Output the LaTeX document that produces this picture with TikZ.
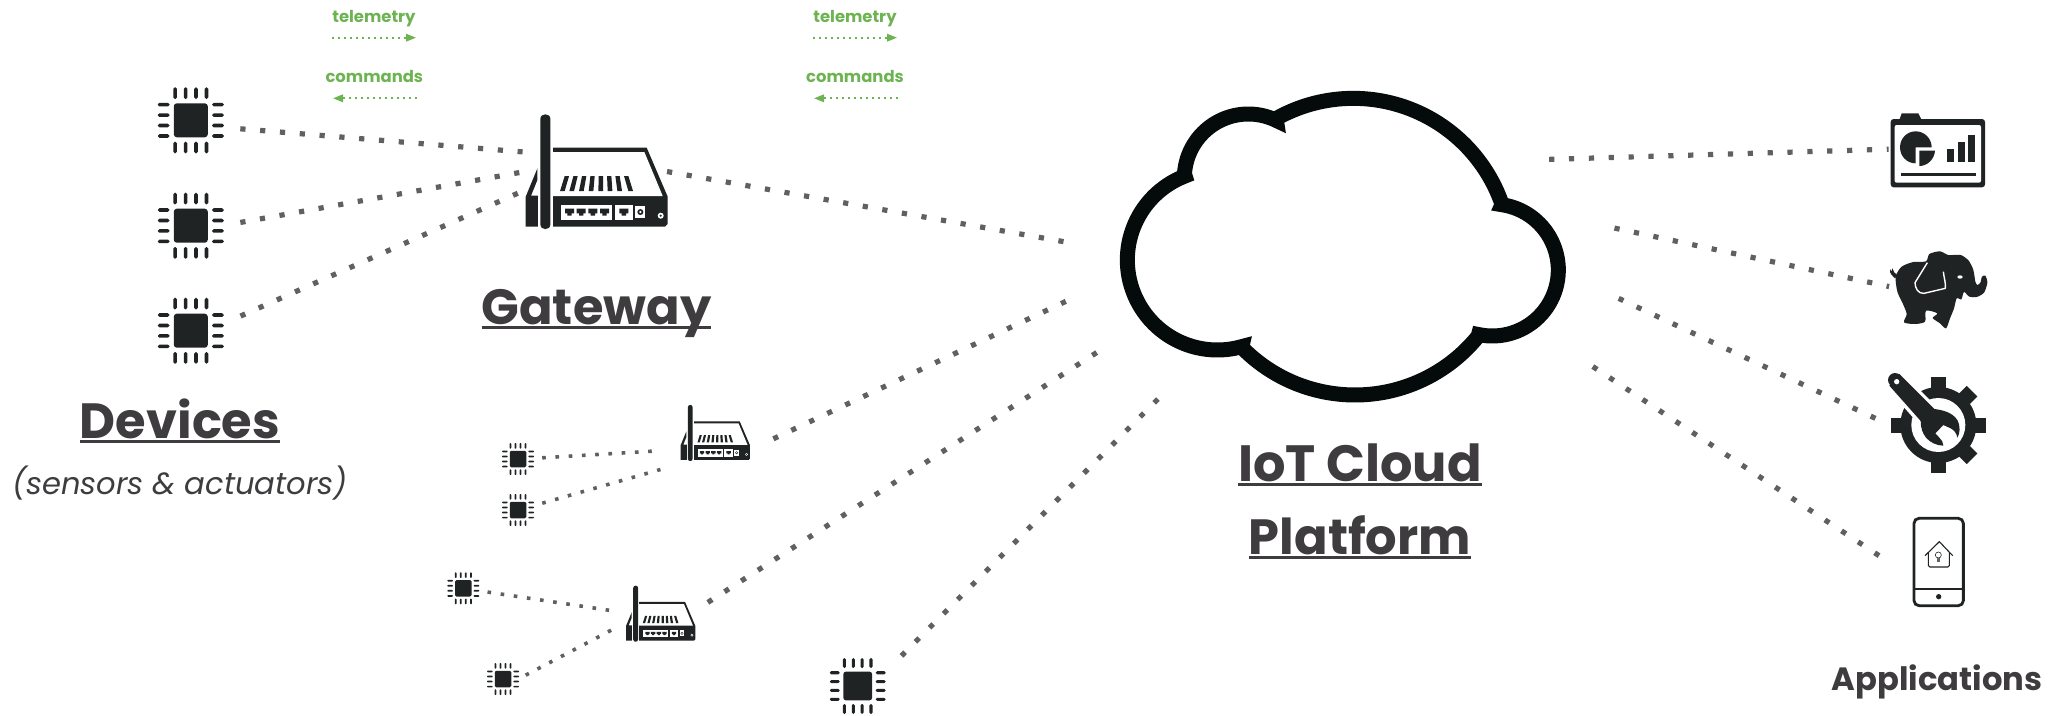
\documentclass[tikz,border=0pt]{standalone}
\usepackage{fontspec}
\setmainfont{Poppins}
\usetikzlibrary{arrows.meta}
\definecolor{icon}{HTML}{1F2324}
\definecolor{cloudk}{HTML}{050A0A}
\definecolor{txt}{HTML}{3E3C3F}
\definecolor{grn}{HTML}{6DB352}
\definecolor{dots}{HTML}{606060}
\newcommand{\ult}[1]{\setbox0=\hbox{#1}\rlap{\raisebox{-4.5pt}{\rule{\wd0}{2.8pt}}}\box0}
\tikzset{
  bigdots/.style={draw=dots,line width=5.2pt,dash pattern=on 5.2pt off 14.67pt,shorten <=-2.6pt,shorten >=-2.6pt},
  smalldots/.style={draw=dots,line width=3.6pt,dash pattern=on 3.6pt off 9.67pt,shorten <=-1.8pt,shorten >=-1.8pt},
  flow/.style={draw=grn,line width=1.7pt,dash pattern=on 1.7pt off 4.3pt,-{Triangle[length=10pt,width=7.5pt]}},
  greenlabel/.style={text=grn,font=\bfseries\fontsize{16.4}{20}\selectfont,anchor=base,inner sep=0pt},
  title/.style={text=txt,font=\bfseries\fontsize{49.5}{54}\selectfont,anchor=base,inner sep=0pt},
  pics/chip/.style={code={
    \fill[icon,rounded corners=3pt*#1] (-17,-17) rectangle (17,17);
    \foreach \p in {-15.7,-5.2,5.2,15.7}{
      \fill[icon,rounded corners=1.6pt*#1] (\p-1.8,-33) rectangle (\p+1.8,-21.3);
      \fill[icon,rounded corners=1.6pt*#1] (\p-1.8,21.3) rectangle (\p+1.8,33);
      \fill[icon,rounded corners=1.6pt*#1] (-33,\p-1.8) rectangle (-21.3,\p+1.8);
      \fill[icon,rounded corners=1.6pt*#1] (21.3,\p-1.8) rectangle (33,\p+1.8);
    }
  }},
  pics/router/.style={code={
    \begin{scope}[shift={(-260,-215)}]
      \fill[icon] (125,143) -- (410,143) -- (473,290) -- (473,372) -- (465,380) -- (125,380) -- cycle;
      \fill[white] (125,156) -- (403,156) -- (458,288) -- (125,288) -- cycle;
      \fill[icon] (82,205) -- (47,290) -- (47,380) -- (90,380) -- (90,287) -- (63,287) -- (82,240) -- cycle;
      \foreach \a/\b in {164/150,190/178,216/207,241/236,266/265,291/293,316/322,342/355}
        \fill[icon] (\a,228) -- (\a+13,228) -- (\b+14,273) -- (\b,273) -- cycle;
      \fill[white] (152,315) rectangle (305,360);
      \fill[white] (315,315) rectangle (368,360);
      \fill[white] (376,318) rectangle (406,355);
      \foreach \q in {165,200,235,270,328}
        \fill[icon] (\q,326) -- (\q+27,326) -- (\q+27,340) -- (\q+20,340) -- (\q+20,347) -- (\q+7,347) -- (\q+7,340) -- (\q,340) -- cycle;
      \fill[icon] (391,336) circle[radius=9];
      \fill[white] (391,336) circle[radius=4];
      \fill[white] (452,347) circle[radius=9];
      \fill[icon] (452,347) circle[radius=3.5];
      \fill[white] (84,60) rectangle (128,392);
      \fill[icon] (91,57) .. controls (91,38) and (121,38) .. (121,57) -- (121,373) .. controls (121,392) and (91,392) .. (91,373) -- cycle;
    \end{scope}
  }},
}
\begin{document}
\begin{tikzpicture}[x=1pt,y=-1pt]
\useasboundingbox (0,0) rectangle (2060,715);

% chips
\pic (d1) at (190.8,120.3) {chip=1};
\pic (d2) at (190.8,225.7) {chip=1};
\pic (d3) at (190.8,330.7) {chip=1};
\pic[scale=.485] (s1) at (518,459) {chip=.485};
\pic[scale=.485] (s2) at (518,510) {chip=.485};
\pic[scale=.485] (s3) at (463.3,588.3) {chip=.485};
\pic[scale=.485] (s4) at (503,679) {chip=.485};
\pic[scale=.845] (s5) at (857.7,686) {chip=.845};

% routers
\pic[scale=1/3] (g1) at (596.7,171.7) {router};
\pic[scale=.1627] (g2) at (715.3,433) {router};
\pic[scale=.1627] (g3) at (660.7,613.7) {router};

% cloud
\begin{scope}[shift={(1090,70)},scale=1/3]
  \draw[cloudk,line width=15pt,fill=white,miter limit=10]
    plot[domain=-119.4:-19,samples=50,smooth] ({790+472*cos(\x)},{557+472*sin(\x)})
    -- plot[domain=-81.6:102,samples=50,smooth] ({1207+198*cos(\x)},{600+198*sin(\x)})
    -- plot[domain=38.9:135.7,samples=50,smooth] ({795+475*cos(\x)},{500+475*sin(\x)})
    -- plot[domain=74.2:249,samples=50,smooth] ({382+270*cos(\x)},{570+270*sin(\x)})
    -- plot[domain=183.6:296,samples=50,smooth] ({475+192*cos(\x)},{324+192*sin(\x)})
    -- cycle;
\end{scope}

% connector ends
\coordinate (d1o) at (242.9,129);   \coordinate (g1a) at (520,151.7);
\coordinate (d2o) at (242.9,222);   \coordinate (g1b) at (516.9,173);
\coordinate (d3o) at (242.9,315);   \coordinate (g1c) at (515.4,194.3);
\coordinate (g1o) at (669.6,172);   \coordinate (c1) at (1064,241.7);
\coordinate (g2o) at (775.7,437.7); \coordinate (c2) at (1066.8,300.9);
\coordinate (g3o) at (710,601);     \coordinate (c3) at (1096,353);
\coordinate (s5o) at (903.3,654);   \coordinate (c4) at (1158,399);
\coordinate (s1o) at (544,457.7);   \coordinate (g2a) at (650,451.3);
\coordinate (s2o) at (544,502.7);   \coordinate (g2b) at (658.7,470);
\coordinate (s3o) at (489.3,592.3); \coordinate (g3a) at (607.3,610);
\coordinate (s4o) at (527.3,674.3); \coordinate (g3b) at (609.7,631);
\coordinate (c5) at (1551.7,159.3); \coordinate (a1) at (1886,149.3);
\coordinate (c6) at (1617,228.6);   \coordinate (a2) at (1886.5,286);
\coordinate (c7) at (1621,299.5);   \coordinate (a3) at (1874,417.7);
\coordinate (c8) at (1595,368);     \coordinate (a4) at (1878,555);

\draw[bigdots] (d1o) -- (g1a);
\draw[bigdots] (d2o) -- (g1b);
\draw[bigdots] (d3o) -- (g1c);
\draw[bigdots] (g1o) -- (c1);
\draw[bigdots] (g2o) -- (c2);
\draw[bigdots] (g3o) -- (c3);
\draw[bigdots] (s5o) -- (c4);
\draw[smalldots] (s1o) -- (g2a);
\draw[smalldots] (s2o) -- (g2b);
\draw[smalldots] (s3o) -- (g3a);
\draw[smalldots] (s4o) -- (g3b);
\draw[bigdots] (c5) -- (a1);
\draw[bigdots] (c6) -- (a2);
\draw[bigdots] (c7) -- (a3);
\draw[bigdots] (c8) -- (a4);

% dashboard
\begin{scope}[shift={(1800,90)},scale=1/3]
  \fill[icon] (298,90) -- (305,70) -- (355,70) -- (365,90) -- cycle;
  \fill[icon,rounded corners=3pt] (272,87) rectangle (555,292);
  \fill[white,rounded corners=2pt] (284,105) rectangle (543,278);
  \fill[icon] (347,220) .. controls (320,220) and (300,198) .. (300,172) .. controls (300,146) and (320,124) .. (347,124) .. controls (374,124) and (395,146) .. (395,172) -- (347,172) -- cycle;
  \fill[icon] (358,182) -- (405,182) .. controls (403,208) and (382,228) .. (358,228) -- cycle;
  \fill[icon] (442,177) rectangle (462,217);
  \fill[icon] (473,157) rectangle (494,217);
  \fill[icon] (504,135) rectangle (525,217);
  \fill[icon] (303,248) rectangle (527,257);
\end{scope}

% elephant
\begin{scope}[shift={(1800,90)},scale=1/3]
  \fill[icon] (270,537) .. controls (268,550) and (275,555) .. (285,565) -- (292,555) .. controls (285,552) and (280,545) .. (277,535) -- (274,545) -- cycle;
  \fill[icon] plot[smooth cycle,tension=.45] coordinates {
    (287,560) (305,530) (340,516) (378,514) (388,492) (420,484) (445,495) (482,495) (506,512) (520,540) (526,575) (532,585) (541,578) (546,560) (556,557) (562,578) (552,608) (530,621) (508,620) (492,606) (484,628) (470,625) (462,655) (450,685) (438,715) (420,700) (398,684) (412,670) (378,662) (375,695) (345,702) (312,697) (320,672) (308,640) (292,605)};
  \draw[white,line width=1.4pt,line join=round] (382,518) -- (345,578) .. controls (345,595) and (355,612) .. (372,610) -- (436,595) .. controls (438,580) and (432,565) .. (430,545);
  \fill[white] (480,561) ellipse[x radius=8,y radius=5];
\end{scope}

% gear and wrench
\begin{scope}[shift={(1938.3,425)}]
  \foreach \t in {0,45,90,135,180,270,315}
    \fill[icon,rotate=\t] (30,-7.5) rectangle (47.7,7.5);
  \fill[icon] (0,0) circle[radius=38];
  \fill[white] (0,0) circle[radius=27];
\end{scope}
\begin{scope}[shift={(1880,365)},scale=1/3]
  \draw[white,line width=6pt,line join=round,fill=white] (58,26) -- (165,133) -- (215,150) -- (240,185) -- (232,218) -- (190,242) -- (155,235) -- (130,205) -- (122,170) -- (28,64) -- cycle;
  \fill[white] (45,45) circle[radius=28];
  \fill[icon] (45,45) circle[radius=21];
  \fill[icon] (58,27) -- (163,132) .. controls (185,135) and (215,140) .. (232,165) .. controls (242,185) and (240,205) .. (232,218) .. controls (230,205) and (222,195) .. (212,190) -- (190,180) -- (166,205) -- (178,218) .. controls (185,225) and (190,232) .. (190,242) .. controls (170,242) and (150,232) .. (138,218) .. controls (128,205) and (122,190) .. (122,168) -- (28,62) -- cycle;
  \fill[white] (50,50) circle[radius=8];
\end{scope}

% phone
\begin{scope}[shift={(1800,350)},scale=1/3]
  \draw[icon,line width=2.8pt,rounded corners=5pt] (342,505) rectangle (490,767);
  \draw[icon,line width=1.7pt] (342,717) -- (490,717);
  \fill[icon] (416,740) circle[radius=8];
  \draw[icon,line width=1.1pt,line join=round] (375,617) -- (418,575) -- (458,617);
  \draw[icon,line width=1.1pt,rounded corners=1.5pt] (385,608) -- (385,651) -- (448,651) -- (448,608);
  \draw[icon,line width=.6pt] (415,615) circle[radius=9];
  \fill[icon!70] (411,625) rectangle (420,636);
\end{scope}

% labels
\node[title] (devices) at (180,438.5) {\ult{Devices}};
\node[text=txt,anchor=base,inner sep=0pt,font=\itshape\fontsize{30.6}{36}\selectfont] (sens) at (180,494) {(sensors \& actuators)};
\node[title] (gateway) at (596.5,324) {\ult{Gateway}};
\node[title,font=\bfseries\fontsize{51}{54}\selectfont] (iot) at (1360,481.5) {\ult{IoT Cloud}};
\node[title] (plat) at (1360,554.5) {\ult{Platform}};
\node[text=txt,anchor=base,inner sep=0pt,font=\bfseries\fontsize{32.2}{38}\selectfont] (apps) at (1937,690) {Applications};

\node[greenlabel] (t1) at (374,22) {telemetry};
\node[greenlabel] (k1) at (374.3,82.5) {commands};
\node[greenlabel] (t2) at (855,22) {telemetry};
\node[greenlabel] (k2) at (855,82.5) {commands};
\coordinate (t1a) at (332,37.7); \coordinate (t1b) at (416,37.7);
\coordinate (k1a) at (417,98.3); \coordinate (k1b) at (333,98.3);
\coordinate (t2a) at (813,37.7); \coordinate (t2b) at (897,37.7);
\coordinate (k2a) at (898,98.3); \coordinate (k2b) at (814,98.3);
\draw[flow] (t1a) -- (t1b);
\draw[flow] (k1a) -- (k1b);
\draw[flow] (t2a) -- (t2b);
\draw[flow] (k2a) -- (k2b);
\end{tikzpicture}
\end{document}
